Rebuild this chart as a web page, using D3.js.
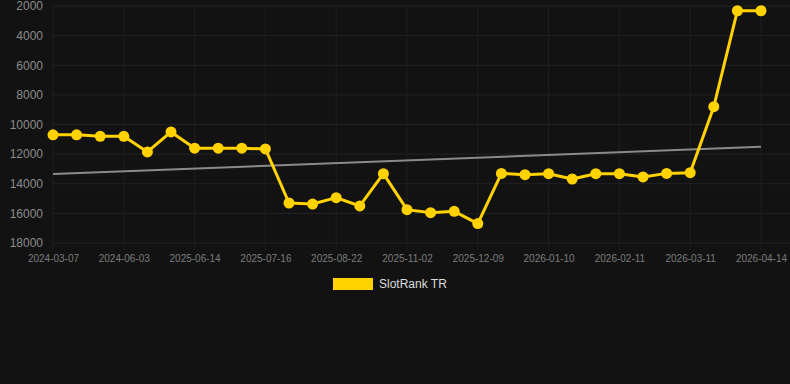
<!DOCTYPE html>
<html>
<head>
<meta charset="utf-8">
<script src="https://cdn.jsdelivr.net/npm/d3@7"></script>
<style>
  html, body { margin: 0; padding: 0; background: #121212; }
  svg { display: block; font-family: Arial, "Liberation Sans", sans-serif; }
</style>
</head>
<body>
<div id="chart"></div>
<script>
// SlotRank TR over time (lower rank value drawn higher)
const dates = [
  '2024-03-07', '', '', '2024-06-03', '', '', '2025-06-14', '', '', '2025-07-16',
  '', '', '2025-08-22', '', '', '2025-11-02', '', '', '2025-12-09', '', '',
  '2026-01-10', '', '', '2026-02-11', '', '', '2026-03-11', '', '', '2026-04-14'
];
const rankValues = [
  10700, 10700, 10800, 10800, 11850, 10500, 11600, 11600, 11600, 11650,
  15300, 15370, 14940, 15500, 13320, 15750, 15950, 15860, 16690, 13300,
  13390, 13320, 13680, 13320, 13320, 13540, 13300, 13250, 8800, 2320, 2320
];
const trendValues = [13340, 11500];
const yTicks = [2000, 4000, 6000, 8000, 10000, 12000, 14000, 16000, 18000];
const seriesName = 'SlotRank TR';

const width = 790, height = 384;
const margin = { top: 6, right: 29, bottom: 141, left: 53 };
const innerW = width - margin.left - margin.right;
const innerH = height - margin.top - margin.bottom;

const svg = d3.select('#chart').append('svg')
  .attr('width', width)
  .attr('height', height);

svg.append('rect').attr('width', width).attr('height', height).attr('fill', '#121212');

const g = svg.append('g').attr('transform', `translate(${margin.left},${margin.top})`);

const x = d3.scalePoint()
  .domain(d3.range(dates.length))
  .range([0, innerW]);

const y = d3.scaleLinear()
  .domain([2000, 18000])
  .range([0, innerH]);

// horizontal grid
g.append('g')
  .selectAll('line')
  .data(yTicks)
  .join('line')
  .attr('x1', 0)
  .attr('x2', innerW + margin.right)
  .attr('y1', d => y(d))
  .attr('y2', d => y(d))
  .attr('stroke', '#232323')
  .attr('stroke-width', 1);

// vertical grid at labelled dates
const labelled = d3.range(dates.length).filter(i => dates[i] !== '');
g.append('g')
  .selectAll('line')
  .data(labelled)
  .join('line')
  .attr('x1', d => x(d))
  .attr('x2', d => x(d))
  .attr('y1', 0)
  .attr('y2', innerH + 7)
  .attr('stroke', '#1f1f1f')
  .attr('stroke-width', 1);

// y axis labels
const yAxis = g.append('g')
  .call(d3.axisLeft(y).tickValues(yTicks).tickSize(0).tickPadding(10).tickFormat(d3.format('d')));
yAxis.select('.domain').remove();
yAxis.selectAll('text')
  .attr('fill', '#8c8c8c')
  .style('font-size', '12px');

// x axis labels
const xAxis = g.append('g')
  .attr('transform', `translate(0,${innerH})`)
  .call(d3.axisBottom(x).tickValues(labelled).tickSize(0).tickPadding(12).tickFormat(i => dates[i]));
xAxis.select('.domain').remove();
xAxis.selectAll('text')
  .attr('fill', '#7c7c7c')
  .style('font-size', '10px');

// trend line
g.append('line')
  .attr('x1', x(0))
  .attr('x2', x(dates.length - 1))
  .attr('y1', y(trendValues[0]))
  .attr('y2', y(trendValues[1]))
  .attr('stroke', '#8a8a8a')
  .attr('stroke-width', 2);

// series line
const line = d3.line()
  .x((d, i) => x(i))
  .y(d => y(d));

g.append('path')
  .datum(rankValues)
  .attr('fill', 'none')
  .attr('stroke', '#ffd200')
  .attr('stroke-width', 3)
  .attr('stroke-linejoin', 'round')
  .attr('d', line);

g.append('g')
  .selectAll('circle')
  .data(rankValues)
  .join('circle')
  .attr('cx', (d, i) => x(i))
  .attr('cy', d => y(d))
  .attr('r', 5.5)
  .attr('fill', '#ffd200');

// legend
const legend = svg.append('g').attr('transform', 'translate(333,278)');
legend.append('rect')
  .attr('width', 40)
  .attr('height', 12)
  .attr('fill', '#ffd200');
legend.append('text')
  .attr('x', 46)
  .attr('y', 10)
  .attr('fill', '#dddddd')
  .style('font-size', '12px')
  .text(seriesName);
</script>
</body>
</html>
